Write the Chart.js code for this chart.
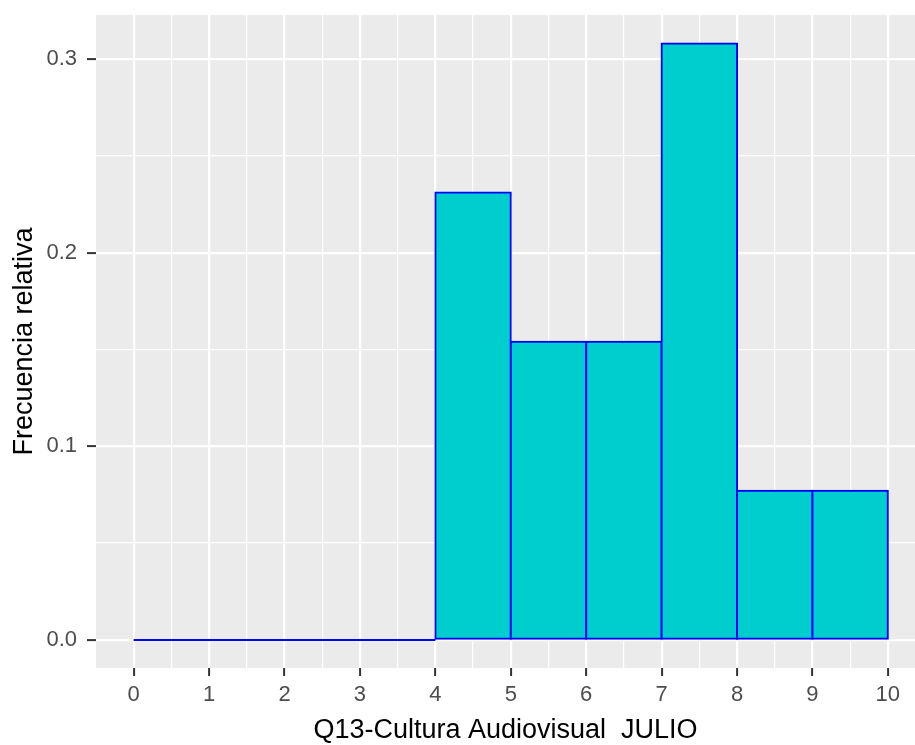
<!DOCTYPE html>
<html>
<head>
<meta charset="utf-8">
<title>Q13 Cultura Audiovisual JULIO</title>
<script src="https://cdn.jsdelivr.net/npm/chart.js@4.4.1/dist/chart.umd.min.js"></script>
<style>
    html, body { margin: 0; padding: 0; background: #ffffff; }
    canvas { display: block; }
</style>
</head>
<body>
<canvas id="histograma" width="915" height="745"></canvas>
<script>
// ===== datos del histograma =====
const inicioIntervalo = [0, 1, 2, 3, 4, 5, 6, 7, 8, 9];
const frecuenciaRelativa = [0, 0, 0, 0, 0.231, 0.154, 0.154, 0.308, 0.077, 0.077];
const anchoIntervalo = 1;

const marcasX = [0, 0.5, 1, 1.5, 2, 2.5, 3, 3.5, 4, 4.5, 5, 5.5, 6, 6.5, 7, 7.5, 8, 8.5, 9, 9.5, 10];
const marcasY = [0, 0.05, 0.1, 0.15, 0.2, 0.25, 0.3];

const etiquetaX = 'Q13-Cultura Audiovisual  JULIO';
const etiquetaY = 'Frecuencia relativa';

// ===== estilo =====
const FUENTE = "'Liberation Sans', Arial, sans-serif";
const COLOR_RELLENO = '#00CDCD';
const COLOR_BORDE = '#0000FF';
const COLOR_PANEL = '#EBEBEB';

const esEntero = (v) => Math.abs(v - Math.round(v)) < 1e-6;
const esMayorY = (v) => esEntero(v * 10);

// valor de la marca en un contexto de grid (puede venir sin tick)
const valorTick = (c) => (c && c.tick) ? c.tick.value : NaN;

// barras centradas en cada intervalo
const barras = inicioIntervalo.map((x0, i) => ({ x: x0 + anchoIntervalo / 2, y: frecuenciaRelativa[i] }));

// bordes de intervalos (para el eje oculto que fija el ancho de barra)
const bordes = inicioIntervalo.concat([inicioIntervalo[inicioIntervalo.length - 1] + anchoIntervalo]);

// contorno de los intervalos vacios (altura cero)
const lineaCero = [];
inicioIntervalo.forEach((x0, i) => {
    if (frecuenciaRelativa[i] === 0) {
        lineaCero.push({ x: x0, y: 0 }, { x: x0 + anchoIntervalo, y: 0 });
    } else {
        lineaCero.push({ x: x0, y: null });
    }
});

// fondo gris del panel
const fondoPanel = {
    id: 'fondoPanel',
    beforeDraw(chart) {
        const { ctx, chartArea } = chart;
        ctx.save();
        ctx.fillStyle = COLOR_PANEL;
        ctx.fillRect(chartArea.left, chartArea.top, chartArea.right - chartArea.left, chartArea.bottom - chartArea.top);
        ctx.restore();
    }
};

const ctx = document.getElementById('histograma');

new Chart(ctx, {
    type: 'bar',
    data: {
        datasets: [
            {
                type: 'bar',
                data: barras,
                xAxisID: 'xb',
                yAxisID: 'y',
                grouped: false,
                backgroundColor: COLOR_RELLENO,
                borderColor: COLOR_BORDE,
                borderWidth: 2,
                borderSkipped: false,
                inflateAmount: 1,
                barPercentage: 1,
                categoryPercentage: 1
            },
            {
                type: 'line',
                data: lineaCero,
                xAxisID: 'x',
                yAxisID: 'y',
                borderColor: COLOR_BORDE,
                borderWidth: 2,
                pointRadius: 0,
                spanGaps: false,
                fill: false
            }
        ]
    },
    options: {
        responsive: false,
        animation: false,
        devicePixelRatio: 1,
        layout: { padding: { top: 15, right: 0, bottom: 0, left: 0 } },
        plugins: {
            legend: { display: false },
            tooltip: { enabled: false }
        },
        scales: {
            x: {
                type: 'linear',
                position: 'bottom',
                min: -0.5,
                max: 10.36,
                offset: false,
                afterBuildTicks: (scale) => { scale.ticks = marcasX.map(v => ({ value: v })); },
                afterFit: (scale) => {
                    scale.height = 77;
                    scale.paddingLeft = 0;
                    scale.paddingRight = 0;
                },
                border: { display: false },
                grid: {
                    offset: false,
                    color: '#FFFFFF',
                    lineWidth: (c) => esEntero(valorTick(c)) ? 2.2 : 1.2,
                    drawTicks: true,
                    tickLength: 8,
                    tickWidth: 2,
                    tickColor: (c) => esEntero(valorTick(c)) ? '#333333' : 'rgba(0,0,0,0)'
                },
                ticks: {
                    autoSkip: false,
                    maxRotation: 0,
                    padding: 6,
                    color: '#4D4D4D',
                    font: { family: FUENTE, size: 22 },
                    callback: (v) => esEntero(v) ? String(Math.round(v)) : ''
                },
                title: {
                    display: true,
                    text: etiquetaX,
                    color: '#000000',
                    font: { family: FUENTE, size: 27, lineHeight: 1.1 },
                    padding: { top: 0, bottom: 0 }
                }
            },
            xb: {
                type: 'linear',
                position: 'bottom',
                display: false,
                offset: false,
                grid: { offset: false },
                min: -0.5,
                max: 10.36,
                afterBuildTicks: (scale) => { scale.ticks = bordes.map(v => ({ value: v })); }
            },
            y: {
                type: 'linear',
                min: -0.0145,
                max: 0.3227,
                afterBuildTicks: (scale) => { scale.ticks = marcasY.map(v => ({ value: v })); },
                afterFit: (scale) => {
                    scale.width = 96;
                    scale.paddingTop = 0;
                    scale.paddingBottom = 0;
                },
                border: { display: false },
                grid: {
                    color: '#FFFFFF',
                    lineWidth: (c) => esMayorY(valorTick(c)) ? 2.2 : 1.2,
                    drawTicks: true,
                    tickLength: 9,
                    tickWidth: 2,
                    tickColor: (c) => esMayorY(valorTick(c)) ? '#333333' : 'rgba(0,0,0,0)'
                },
                ticks: {
                    autoSkip: false,
                    padding: 10,
                    color: '#4D4D4D',
                    font: { family: FUENTE, size: 22 },
                    callback: (v) => esMayorY(v) ? v.toFixed(1) : ''
                },
                title: {
                    display: true,
                    text: etiquetaY,
                    color: '#000000',
                    font: { family: FUENTE, size: 27 },
                    padding: { top: 8, bottom: 0 }
                }
            }
        }
    },
    plugins: [fondoPanel]
});
</script>
</body>
</html>
